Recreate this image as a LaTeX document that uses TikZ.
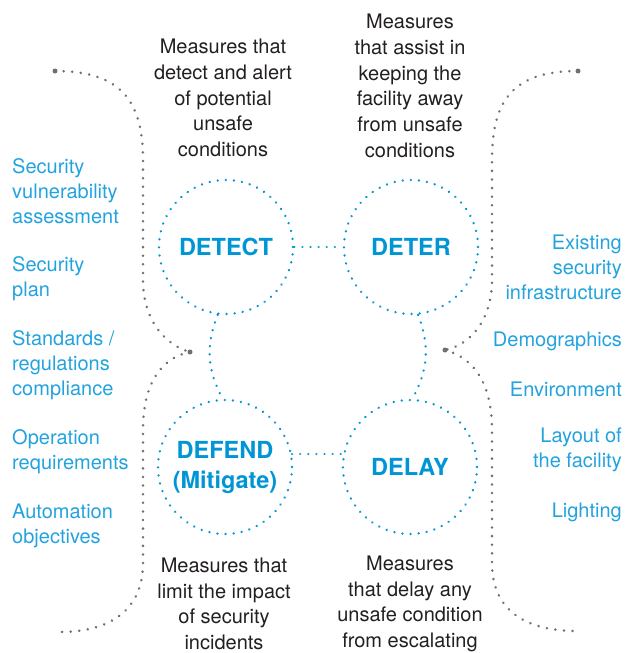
\documentclass[tikz,border=0pt]{standalone}
\usepackage{fontspec}
\setmainfont{TeX Gyre Heros}
\definecolor{dotblue}{RGB}{0,150,214}
\definecolor{textblue}{RGB}{35,163,222}
\definecolor{bracegray}{RGB}{110,112,116}
\definecolor{notegray}{RGB}{35,31,32}
\tikzset{
  stage/.style={circle, minimum size=134pt, inner sep=0pt, draw=dotblue, line width=2.6pt,
    dash pattern=on 0.01pt off 8.1pt, line cap=round, text=dotblue, align=center,
    font=\fontsize{23.5}{30}\selectfont\bfseries},
  link/.style={draw=dotblue, line width=2.6pt, dash pattern=on 0.01pt off 8.1pt, line cap=round},
  brace/.style={draw=bracegray, line width=2.8pt, dash pattern=on 0.01pt off 8.6pt, line cap=round},
  note/.style={text=notegray, align=center, font=\fontsize{20}{25.7}\selectfont},
  item/.style={text=textblue, inner sep=0pt, font=\fontsize{20}{25}\selectfont},
}
\begin{document}
\begin{tikzpicture}[x=1pt,y=-1pt]
  \useasboundingbox (0,0) rectangle (638,653);
  % the four stages
  \node[stage] (detect) at (226,247) {DETECT};
  \node[stage] (deter) at (411,247) {DETER};
  \node[stage] (defend) at (225,467) {DEFEND\\(Mitigate)};
  \node[stage] (delay) at (410,467) {DELAY};
  \draw[link] (detect) -- (deter);
  \draw[link] (defend.11) -- (delay.169);
  \draw[link] (detect.263) to[bend right=25] (defend.92);
  \draw[link] (deter.276) to[bend left=25] (delay.88);
  % what each stage does
  \node[note] (detectnote) at (223,98) {Measures that\\detect and alert\\of potential\\unsafe\\conditions};
  \node[note] (deternote) at (410,86) {Measures\\that assist in\\keeping the\\facility away\\from unsafe\\conditions};
  \node[note] (defendnote) at (224,604) {Measures that\\limit the impact\\of security\\incidents};
  \node[note] (delaynote) at (410,604) {Measures\\that delay any\\unsafe condition\\from escalating};
  % left list
  \node[item, anchor=west, align=left] (lneed1) at (12,191) {Security\\vulnerability\\assessment};
  \node[item, anchor=west, align=left] (lneed2) at (12,278.5) {Security\\plan};
  \node[item, anchor=west, align=left] (lneed3) at (12,365) {Standards /\\regulations\\compliance};
  \node[item, anchor=west, align=left] (lneed4) at (12,451.5) {Operation\\requirements};
  \node[item, anchor=west, align=left] (lneed5) at (12,525.5) {Automation\\objectives};
  % right list
  \node[item, anchor=east, align=right] (rneed1) at (622,267) {Existing\\security\\infrastructure};
  \node[item, anchor=east, align=right] (rneed2) at (622,341) {Demographics};
  \node[item, anchor=east, align=right] (rneed3) at (622,389) {Environment};
  \node[item, anchor=east, align=right] (rneed4) at (622,450) {Layout of\\the facility};
  \node[item, anchor=east, align=right] (rneed5) at (622,512) {Lighting};
  % braces
  \coordinate (ltop) at (55,71);
  \coordinate (ltip) at (190,352);
  \coordinate (lbot) at (60,632);
  \coordinate (rtop) at (578,71);
  \coordinate (rtip) at (445,350);
  \coordinate (rbot) at (577,631);
  \draw[brace] (ltop) .. controls (120,71) and (143,100) .. (143,160) -- (143,280)
    .. controls (143,320) and (165,345) .. (ltip);
  \draw[brace] (ltip) .. controls (160,358) and (143,385) .. (143,430) -- (143,563)
    .. controls (143,610) and (110,632) .. (lbot);
  \draw[brace] (rtop) .. controls (513,71) and (492,100) .. (492,160) -- (492,280)
    .. controls (492,320) and (470,345) .. (rtip);
  \draw[brace] (rtip) .. controls (475,358) and (492,385) .. (492,430) -- (492,563)
    .. controls (492,610) and (525,631) .. (rbot);
  \fill[bracegray] (ltop) circle (2.5) (ltip) circle (2.5) (rtop) circle (2.5) (rtip) circle (2.5);
\end{tikzpicture}
\end{document}
